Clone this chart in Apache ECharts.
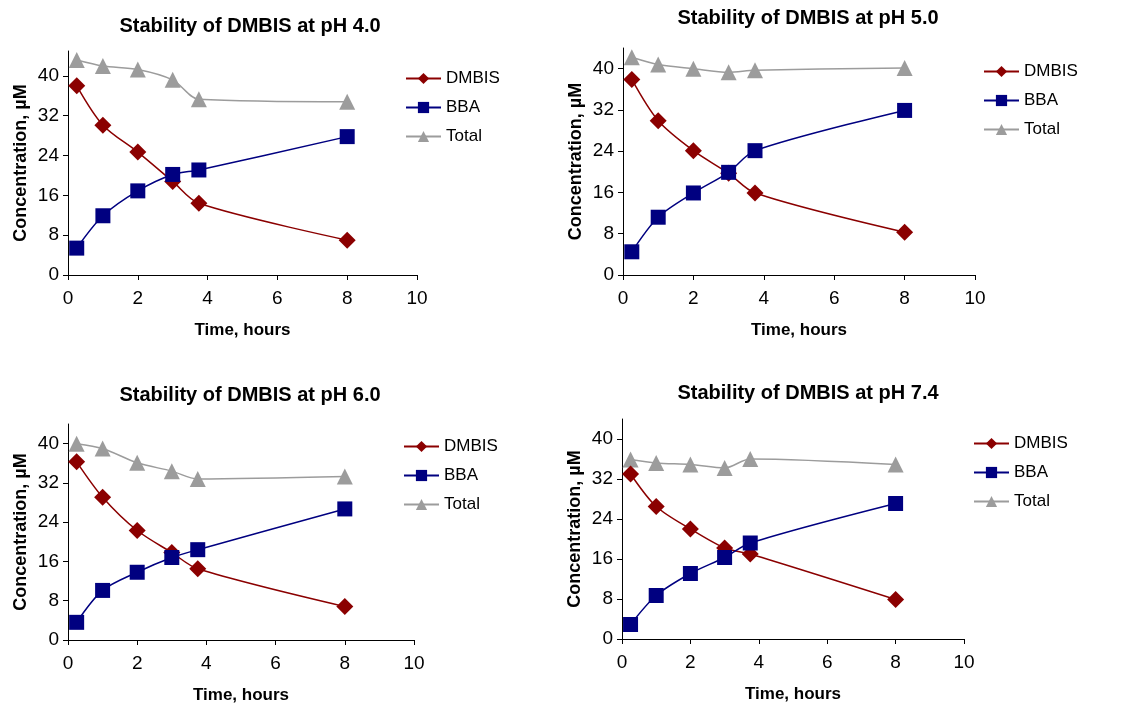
<!DOCTYPE html>
<html>
<head>
<meta charset="utf-8">
<script src="https://cdn.jsdelivr.net/npm/echarts@6/dist/echarts.min.js"></script>
<style>
  html, body { margin: 0; padding: 0; background: #fff; }
  #main { width: 1137px; height: 708px; }
</style>
</head>
<body>
<div id="main"></div>
<script>
// sampling times (hours)
const times = [0.25, 1, 2, 3, 3.75, 8];
const xTicks = [0, 2, 4, 6, 8, 10];
const yTicks = [0, 8, 16, 24, 32, 40];
const seriesNames = ['DMBIS', 'BBA', 'Total'];

// pH 4.0
const titlePh40 = 'Stability of DMBIS at pH 4.0';
const dmbisPh40 = [38.0, 30.1, 24.7, 18.8, 14.4, 7.0];
const bbaPh40 = [5.4, 11.9, 16.9, 20.2, 21.1, 27.8];
const totalPh40 = [43.2, 42.0, 41.3, 39.2, 35.3, 34.8];

// pH 5.0
const titlePh50 = 'Stability of DMBIS at pH 5.0';
const dmbisPh50 = [37.9, 29.9, 24.1, 19.7, 15.9, 8.3];
const bbaPh50 = [4.5, 11.2, 15.9, 19.9, 24.1, 31.9];
const totalPh50 = [42.2, 40.8, 40.0, 39.3, 39.7, 40.1];

// pH 6.0
const titlePh60 = 'Stability of DMBIS at pH 6.0';
const dmbisPh60 = [36.3, 29.1, 22.3, 17.8, 14.5, 6.8];
const bbaPh60 = [3.6, 10.1, 13.8, 16.8, 18.4, 26.7];
const totalPh60 = [40.0, 39.0, 36.1, 34.4, 32.8, 33.3];

// pH 7.4
const titlePh74 = 'Stability of DMBIS at pH 7.4';
const dmbisPh74 = [33.0, 26.5, 22.0, 18.2, 17.0, 7.9];
const bbaPh74 = [2.9, 8.7, 13.1, 16.3, 19.2, 27.1];
const totalPh74 = [35.9, 35.2, 34.9, 34.2, 36.0, 34.9];

const panels = [
  { title: titlePh40, dmbis: dmbisPh40, bba: bbaPh40, total: totalPh40 },
  { title: titlePh50, dmbis: dmbisPh50, bba: bbaPh50, total: totalPh50 },
  { title: titlePh60, dmbis: dmbisPh60, bba: bbaPh60, total: totalPh60 },
  { title: titlePh74, dmbis: dmbisPh74, bba: bbaPh74, total: totalPh74 }
];

// 每个小图的位置
const layout = [
  { grid: { left: 68, right: 720, top: 51, bottom: 433 }, yMax: 45, titleX: 245, titleY: 11, legendX: 405, legendY: 70 },
  { grid: { left: 623, right: 162, top: 48, bottom: 433 }, yMax: 44, titleX: 803, titleY: 3, legendX: 983, legendY: 63 },
  { grid: { left: 68, right: 723, top: 424, bottom: 68 }, yMax: 44, titleX: 245, titleY: 380, legendX: 403, legendY: 438 },
  { grid: { left: 622, right: 173, top: 419, bottom: 69 }, yMax: 44, titleX: 803, titleY: 378, legendX: 973, legendY: 435 }
];

const font = '"Liberation Sans", Arial, sans-serif';
const colors = { DMBIS: '#8b0000', BBA: '#000080', Total: '#9c9c9c' };
const symbols = { DMBIS: 'diamond', BBA: 'rect', Total: 'triangle' };
const symbolSizes = { DMBIS: 17, BBA: 15, Total: 16 };

const option = {
  animation: false,
  backgroundColor: '#fff',
  title: [],
  legend: [],
  grid: [],
  xAxis: [],
  yAxis: [],
  series: []
};

panels.forEach((p, i) => {
  const l = layout[i];
  option.title.push({
    text: p.title,
    left: l.titleX,
    top: l.titleY,
    textAlign: 'center',
    textStyle: { fontFamily: font, fontSize: 20, fontWeight: 'bold', color: '#000' }
  });
  option.legend.push({
    data: seriesNames,
    orient: 'vertical',
    left: l.legendX,
    top: l.legendY,
    padding: 0,
    itemWidth: 35,
    itemHeight: 14,
    itemGap: 12,
    textStyle: { fontFamily: font, fontSize: 17, color: '#000' },
    selectedMode: false
  });
  option.grid.push(Object.assign({ containLabel: false }, l.grid));
  option.xAxis.push({
    type: 'value',
    gridIndex: i,
    min: 0,
    max: 10,
    interval: 2,
    name: 'Time, hours',
    nameLocation: 'middle',
    nameGap: 47,
    nameTextStyle: { fontFamily: font, fontSize: 17, fontWeight: 'bold', color: '#000' },
    axisLine: { show: true, lineStyle: { color: '#000', width: 1 } },
    axisTick: { show: true, inside: false, length: 5, lineStyle: { color: '#000' }, customValues: xTicks },
    axisLabel: { fontFamily: font, fontSize: 19, color: '#000', margin: 14, customValues: xTicks },
    splitLine: { show: false }
  });
  option.yAxis.push({
    type: 'value',
    gridIndex: i,
    min: 0,
    max: l.yMax,
    interval: 8,
    name: 'Concentration, µM',
    nameLocation: 'middle',
    nameGap: 38,
    nameTextStyle: { fontFamily: font, fontSize: 18, fontWeight: 'bold', color: '#000' },
    axisLine: { show: true, lineStyle: { color: '#000', width: 1 } },
    axisTick: { show: true, inside: false, length: 5, lineStyle: { color: '#000' }, customValues: yTicks },
    axisLabel: { fontFamily: font, fontSize: 19, color: '#000', margin: 9, customValues: yTicks },
    splitLine: { show: false }
  });
  const values = { DMBIS: p.dmbis, BBA: p.bba, Total: p.total };
  seriesNames.forEach(name => {
    option.series.push({
      name: name,
      type: 'line',
      xAxisIndex: i,
      yAxisIndex: i,
      smooth: 0.3,
      symbol: symbols[name],
      symbolSize: symbolSizes[name],
      showSymbol: true,
      data: times.map((t, k) => [t, values[name][k]]),
      lineStyle: { color: colors[name], width: 1.5 },
      itemStyle: { color: colors[name] },
      z: name === 'Total' ? 1 : 2
    });
  });
});

const myChart = echarts.init(document.getElementById('main'));
myChart.setOption(option);
</script>
</body>
</html>
